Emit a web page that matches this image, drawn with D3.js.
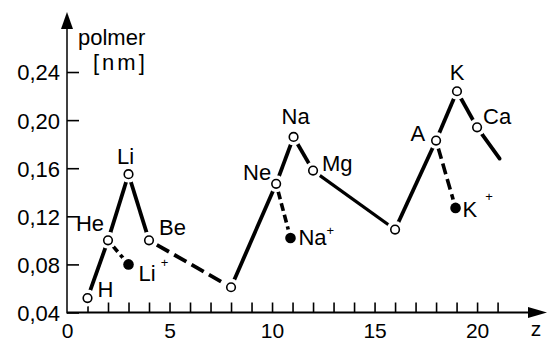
<!DOCTYPE html>
<html>
<head>
<meta charset="utf-8">
<script src="https://cdn.jsdelivr.net/npm/d3@7/dist/d3.min.js"></script>
<style>
  html, body { margin: 0; padding: 0; background: #fff; }
  svg { display: block; }
  text { font-family: "Liberation Sans", Arial, sans-serif; fill: #000; }
</style>
</head>
<body>
<svg id="chart" width="552" height="342"></svg>
<script>
// ---- data ----
const elementLabels = ["H", "He", "Li", "Be", "", "Ne", "Na", "Mg", "", "A", "K", "Ca"];
const elementZ      = [1, 2, 3, 4, 8, 10.2, 11.05, 12, 16, 18, 19.02, 20];
const elementRadius = [0.052, 0.100, 0.155, 0.100, 0.061, 0.147, 0.186, 0.158, 0.109, 0.183, 0.224, 0.194];
const tailZ         = [20, 21.1];
const tailRadius    = [0.194, 0.168];
const ionLabels     = ["Li", "Na", "K"];
const ionParent     = ["He", "Ne", "A"];
const ionZ          = [3, 10.9, 18.95];
const ionRadius     = [0.080, 0.102, 0.127];
const dashedPairs   = [["Be", 4]];          // main-series segment drawn dashed (from Be to next point)
const xTickValues   = [1,2,3,4,5,6,7,8,9,10,11,12,13,14,15,16,17,18,19,20,21];
const xTickLabels   = [0, 5, 10, 15, 20];
const yTickValues   = [0.04, 0.08, 0.12, 0.16, 0.20, 0.24];
const yTitle        = ["polmer", "[nm]"];
const xTitle        = "z";

// ---- layout / style ----
const W = 552, H = 342;
const x = d3.scaleLinear().domain([0, 23.41]).range([67, 547]);
const y = d3.scaleLinear().domain([0.04, 0.29]).range([312.5, 11.9]);
const FS = 22;

const svg = d3.select("#chart");
const fmt = d => d3.format(".2f")(d).replace(".", ",");

// label placement offsets (px) for element labels
const labelPos = {
  "H":  {dx: 10, dy: -1,  a: "start"},
  "He": {dx: -4, dy: -9,  a: "end"},
  "Li": {dx: -3, dy: -10, a: "middle"},
  "Be": {dx: 10, dy: -5,  a: "start"},
  "Ne": {dx: -5, dy: -4,  a: "end"},
  "Na": {dx: 2,  dy: -13, a: "middle"},
  "Mg": {dx: 9,  dy: 0,   a: "start"},
  "A":  {dx: -11,dy: 0,   a: "end"},
  "K":  {dx: 0,  dy: -11, a: "middle"},
  "Ca": {dx: 6,  dy: -3,  a: "start"}
};
const ionPos = [
  {dx: 10, dy: 17, sup: 5,  rise: 14},
  {dx: 8,  dy: 7,  sup: 0,  rise: 10},
  {dx: 7,  dy: 9,  sup: 8,  rise: 16}
];
const ionDash = ["7,4", "8,4", "11,5"];

// ---- axes ----
const gx = svg.append("g").attr("transform", `translate(0,${y(0.04)})`);
gx.call(d3.axisBottom(x).tickValues(xTickValues).tickSize(-10).tickFormat(""));
gx.select(".domain").remove();
gx.selectAll(".tick line").attr("stroke", "#000").attr("stroke-width", 1.6);

const gxl = svg.append("g").attr("transform", `translate(0,${y(0.04)})`);
gxl.call(d3.axisBottom(x).tickValues(xTickLabels).tickSize(0).tickFormat(d3.format("d")));
gxl.select(".domain").remove();
gxl.selectAll(".tick text")
  .attr("y", 25).attr("dy", null)
  .attr("font-size", 21).attr("font-family", "Liberation Sans, Arial, sans-serif")
  .attr("fill", "#000");

const gy = svg.append("g").attr("transform", `translate(${x(0)},0)`);
gy.call(d3.axisLeft(y).tickValues(yTickValues).tickSizeInner(-12).tickSizeOuter(0).tickPadding(7).tickFormat(fmt));
gy.select(".domain").remove();
gy.selectAll(".tick line").attr("stroke", "#000").attr("stroke-width", 1.6);
gy.selectAll(".tick text")
  .attr("font-size", FS).attr("font-family", "Liberation Sans, Arial, sans-serif")
  .attr("fill", "#000").attr("dy", "0.36em");

// axis lines with arrows
svg.append("line").attr("x1", x(0)).attr("x2", x(0)).attr("y1", y(0.04) + 1).attr("y2", y(0.29) + 10)
  .attr("stroke", "#000").attr("stroke-width", 1.5);
svg.append("line").attr("x1", x(0)).attr("x2", x(23.41) - 12).attr("y1", y(0.04)).attr("y2", y(0.04))
  .attr("stroke", "#000").attr("stroke-width", 2);
svg.append("path")
  .attr("d", `M${x(0)},${y(0.29)} L${x(0) - 6},${y(0.29) + 17} L${x(0) + 6},${y(0.29) + 17} Z`)
  .attr("fill", "#000");
svg.append("path")
  .attr("d", `M${x(23.41)},${y(0.04)} L${x(23.41) - 19},${y(0.04) - 5.5} L${x(23.41) - 19},${y(0.04) + 5.5} Z`)
  .attr("fill", "#000");

// axis titles
svg.append("text").attr("x", 78).attr("y", 45).attr("font-size", FS).text(yTitle[0]);
svg.append("text").attr("x", 93).attr("y", 70).attr("font-size", FS).attr("letter-spacing", 3).text(yTitle[1]);
svg.append("text").attr("x", 536).attr("y", 336).attr("font-size", 21).attr("text-anchor", "middle").text(xTitle);

// ---- data lines ----
const pts = elementZ.map((z, i) => ({z, r: elementRadius[i], name: elementLabels[i], i}));
const lineG = svg.append("g");
for (let i = 0; i < pts.length - 1; i++) {
  const a = pts[i], b = pts[i + 1];
  const dashed = dashedPairs.some(p => p[0] === a.name && p[1] === b.i);
  lineG.append("line")
    .attr("x1", x(a.z)).attr("y1", y(a.r)).attr("x2", x(b.z)).attr("y2", y(b.r))
    .attr("stroke", "#000")
    .attr("stroke-width", (a.name === "Mg") ? 3.2 : 3.8)
    .attr("stroke-dasharray", dashed ? "14,6" : null)
    .attr("stroke-dashoffset", dashed ? -9 : null);
}
// tail after Ca
lineG.append("line")
  .attr("x1", x(tailZ[0])).attr("y1", y(tailRadius[0])).attr("x2", x(tailZ[1])).attr("y2", y(tailRadius[1]))
  .attr("stroke", "#000").attr("stroke-width", 3.8).attr("stroke-linecap", "round");
// ion dashed lines
ionLabels.forEach((lab, k) => {
  const p = pts.find(d => d.name === ionParent[k]);
  lineG.append("line")
    .attr("x1", x(p.z)).attr("y1", y(p.r)).attr("x2", x(ionZ[k])).attr("y2", y(ionRadius[k]))
    .attr("stroke", "#000").attr("stroke-width", 3.6)
    .attr("stroke-dasharray", ionDash[k]).attr("stroke-dashoffset", -8);
});

// halos to produce gaps
const haloG = svg.append("g");
haloG.selectAll("circle.h").data(pts).join("circle")
  .attr("cx", d => x(d.z)).attr("cy", d => y(d.r)).attr("r", 8.5).attr("fill", "#fff");
haloG.selectAll("circle.hi").data(ionZ).join("circle")
  .attr("cx", (d, k) => x(d)).attr("cy", (d, k) => y(ionRadius[k])).attr("r", 9).attr("fill", "#fff");

// markers
svg.append("g").selectAll("circle").data(pts).join("circle")
  .attr("cx", d => x(d.z)).attr("cy", d => y(d.r)).attr("r", 4.3)
  .attr("fill", "#fff").attr("stroke", "#000").attr("stroke-width", 1.6);
svg.append("g").selectAll("circle").data(ionZ).join("circle")
  .attr("cx", d => x(d)).attr("cy", (d, k) => y(ionRadius[k])).attr("r", 5.3)
  .attr("fill", "#000");

// labels
const lg = svg.append("g");
pts.filter(d => d.name).forEach(d => {
  const o = labelPos[d.name];
  lg.append("text").attr("x", x(d.z) + o.dx).attr("y", y(d.r) + o.dy)
    .attr("text-anchor", o.a).attr("font-size", FS).text(d.name);
});
ionLabels.forEach((lab, k) => {
  const o = ionPos[k];
  const t = lg.append("text").attr("x", x(ionZ[k]) + o.dx).attr("y", y(ionRadius[k]) + o.dy)
    .attr("font-size", FS);
  t.append("tspan").text(lab);
  t.append("tspan").attr("dx", o.sup).attr("dy", -o.rise).attr("font-size", 13).text("+");
});
</script>
</body>
</html>
